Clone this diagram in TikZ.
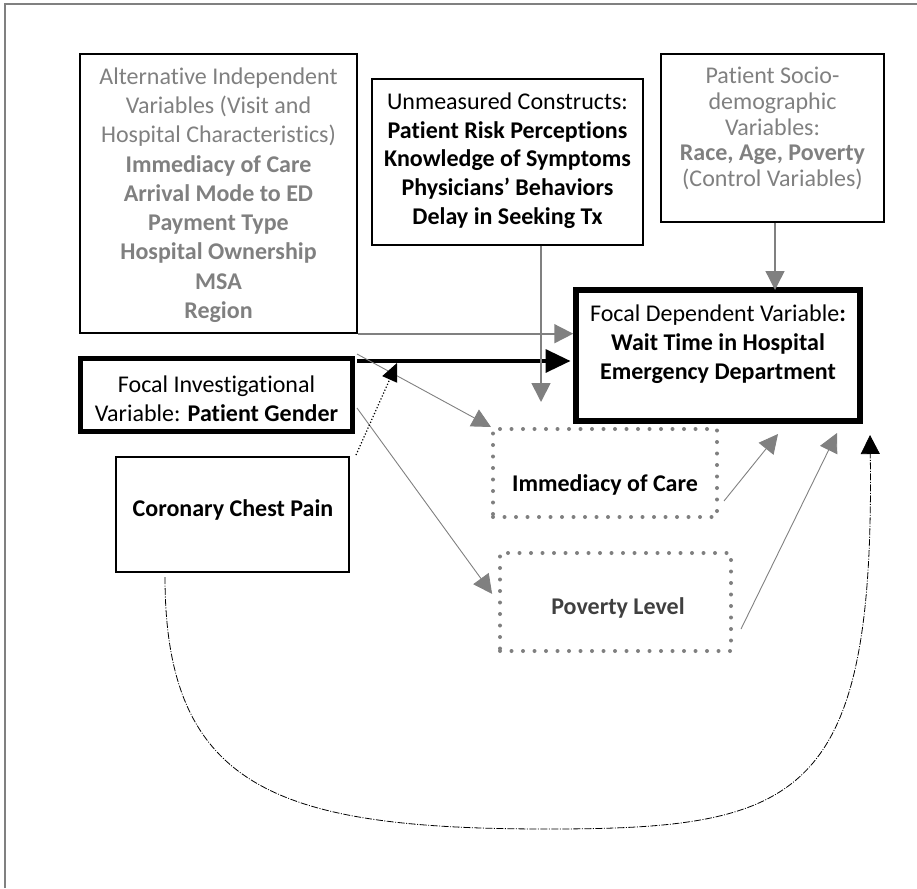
\documentclass[tikz,border=0pt]{standalone}
\usepackage{fontspec}
\setmainfont[Ligatures=NoCommon]{Carlito}
\usetikzlibrary{arrows.meta}
\definecolor{framegray}{HTML}{808080}
\definecolor{txtgray}{HTML}{808080}
\definecolor{arrgray}{HTML}{808080}
\definecolor{thingray}{HTML}{A0A0A0}
\definecolor{dotgray}{HTML}{7F7F7F}
\definecolor{darktxt}{HTML}{404040}
\begin{document}
\begin{tikzpicture}[x=1pt,y=-1pt,
  box/.style={draw=black, line width=1.4pt, inner sep=0pt},
  thickbox/.style={draw=black, line width=5.5pt, inner sep=0pt},
  dotbox/.style={draw=dotgray, line width=4pt, line cap=round, dash pattern=on 0pt off 11.5pt, inner sep=0pt},
  txt/.style={align=center, inner sep=0pt, font=\fontsize{24}{28.7}\selectfont},
  atxt/.style={align=center, inner sep=0pt, font=\fontsize{24}{29.25}\selectfont},
  stxt/.style={align=center, inner sep=0pt, font=\fontsize{24}{25.8}\selectfont},
  garrow/.style={draw=arrgray, line width=1.8pt, -{Triangle[length=19pt,width=19pt]}, arrgray},
  tarrow/.style={draw=thingray, line width=0.9pt, -{Triangle[length=19pt,width=19pt]}, arrgray},
  barrow/.style={draw=black, line width=3.5pt, -{Triangle[length=25pt,width=23pt]}}
]
\useasboundingbox (0,0) rectangle (917,888);
% frame
\draw[framegray, line width=2pt] (5,888) -- (5,4) -- (917,4);

% boxes
\node[box, minimum width=277pt, minimum height=279pt] (alt) at (218.5,193.5) {};
\node[atxt, text=txtgray] (altT) at (218.5,195) {Alternative Independent\\Variables (Visit and\\Hospital Characteristics)\\\textbf{Immediacy of Care}\\\textbf{Arrival Mode to ED}\\\textbf{Payment Type}\\\textbf{Hospital Ownership}\\\textbf{MSA}\\\textbf{Region}};

\node[box, minimum width=271pt, minimum height=166pt] (um) at (507.5,162) {};
\node[txt] (umT) at (507.5,160.5) {Unmeasured Constructs:\\\textbf{Patient Risk Perceptions}\\\textbf{Knowledge of Symptoms}\\\textbf{Physicians’ Behaviors}\\\textbf{Delay in Seeking Tx}};

\node[box, minimum width=223pt, minimum height=168pt] (so) at (772.5,138) {};
\node[stxt, text=txtgray] (soT) at (772.5,128.5) {Patient Socio-\\demographic\\Variables:\\\textbf{Race, Age, Poverty}\\(Control Variables)};

\node[thickbox, minimum width=284pt, minimum height=131pt] (ED) at (718,355.5) {};
\node[txt] (EDT) at (718,344) {Focal Dependent Variable\textbf{:}\\\textbf{Wait Time in Hospital}\\\textbf{Emergency Department}};

\node[thickbox, minimum width=272pt, minimum height=73pt] (gen) at (216.5,395) {};
\node[txt] (genT) at (216.5,399) {Focal Investigational\\Variable: \textbf{Patient Gender}};

\node[box, minimum width=233pt, minimum height=115pt] (chest) at (232.5,514.5) {};
\node[txt] (chestT) at (233,510) {\textbf{Coronary Chest Pain}};

\node[dotbox, minimum width=224pt, minimum height=88pt] (imm) at (605,473) {};
\node[txt] (immT) at (605,485) {\textbf{Immediacy of Care}};

\node[dotbox, minimum width=231pt, minimum height=98pt] (pov) at (615.5,602) {};
\node[txt, text=darktxt] (povT) at (618,608) {\textbf{Poverty Level}};

% connector coordinates
\coordinate (gOut) at (357,361);
\coordinate (uEnd) at (541,402);
\coordinate (sx) at (775,250);
\coordinate (a2) at (357,354);
\coordinate (g2) at (357,408);
\coordinate (c1) at (356,455);
\coordinate (c2) at (397,363);
\coordinate (i1) at (724,501);
\coordinate (i2) at (778,434);
\coordinate (p1) at (741,629);
\coordinate (p2) at (837,433);
\coordinate (cv1) at (165,577);
\coordinate (cvB) at (548,829);
\coordinate (cv2) at (870,435);

% connectors
\draw[garrow] (alt.south east) -- (ED.west |- alt.south east);
\draw[barrow] (gOut) -- ([xshift=-2.75pt]ED.west |- gOut);
\draw[garrow] (um.south -| uEnd) -- (uEnd);
\draw[garrow, line width=1.4pt] (so.south -| sx) -- ([yshift=-2.75pt]ED.north -| sx);
\draw[tarrow] (a2) -- (imm.north west);
\draw[tarrow, shorten >=10pt] (g2) -- (pov.west);
\draw[black, line width=1.2pt, dash pattern=on 1.2pt off 2pt, -{Triangle[length=18pt,width=16pt]}] (c1) -- (c2);
\draw[tarrow] (i1) -- (i2);
\draw[tarrow] (p1) -- (p2);
\draw[black, line width=0.8pt, dash pattern=on 7pt off 1.5pt on 1pt off 1.5pt, -{Triangle[length=19pt,width=19pt]}]
  (cv1) .. controls (165,790) and (280,829) .. (cvB) .. controls (800,829) and (875,800) .. (cv2);
\end{tikzpicture}
\end{document}
